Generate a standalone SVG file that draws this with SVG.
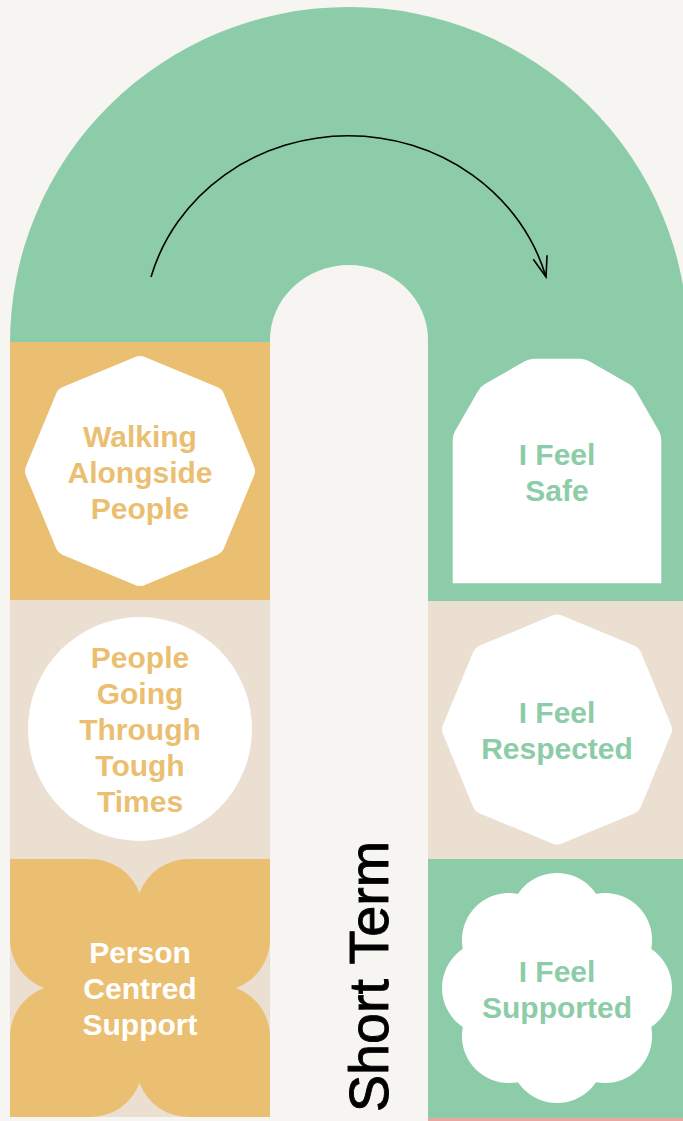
<svg xmlns="http://www.w3.org/2000/svg" width="683" height="1121" viewBox="0 0 683 1121">
  <defs>
    <style>
      .lbl { font-family: "Liberation Sans", Arial, Helvetica, sans-serif; font-weight: bold; font-size: 30px; text-anchor: middle; }
      .or { fill: #ebbf72; }
      .gr { fill: #8dcca8; }
      .wh { fill: #ffffff; }
      .oct { fill: #ffffff; stroke: #ffffff; stroke-width: 22; stroke-linejoin: round; }
      .side { font-family: "Liberation Sans", Arial, Helvetica, sans-serif; font-size: 56px; fill: #000000; stroke: #000000; stroke-width: 0.9; }
    </style>
    <marker id="ah" markerUnits="userSpaceOnUse" markerWidth="30" markerHeight="30" refX="0" refY="0" viewBox="-25 -15 30 30" orient="auto" overflow="visible">
      <path d="M-20,-7 L0,0 L-20,7" fill="none" stroke="#000000" stroke-width="1.6" stroke-linecap="round" stroke-linejoin="miter"/>
    </marker>
  </defs>

  <rect x="0" y="0" width="683" height="1121" fill="#f6f5f1"/>

  <g id="track">
    <path d="M10,343 A339,336 0 0 1 688,343 Z" fill="#8dcca8"/>
    <rect x="428" y="340" width="260" height="261" fill="#8dcca8"/>
    <path d="M270,1121 V340 A79,75 0 0 1 428,340 V1121 Z" fill="#f6f5f1"/>
    <rect x="10" y="342" width="260" height="258" fill="#ebbf72"/>
    <rect x="10" y="600" width="260" height="517" fill="#ebdfd1"/>
    <rect x="428" y="601" width="255" height="258" fill="#ebdfd1"/>
    <rect x="428" y="859" width="255" height="259" fill="#8dcca8"/>
    <rect x="428" y="1118" width="255" height="3" fill="#e8a8a0"/>
  </g>

  <g id="connectors">
    <path d="M151,277 A205,193 0 0 1 546,277" fill="none" stroke="#000000" stroke-width="1.6" marker-end="url(#ah)"/>
  </g>

  <g id="node-walking">
    <polygon class="oct" points="140,367 213.54,397.46 244,471 213.54,544.54 140,575 66.46,544.54 36,471 66.46,397.46"/>
    <text class="lbl or" x="140" y="447">Walking</text>
    <text class="lbl or" x="140" y="483">Alongside</text>
    <text class="lbl or" x="140" y="519">People</text>
  </g>

  <g id="node-tough-times">
    <circle cx="140" cy="729" r="112" fill="#ffffff"/>
    <text class="lbl or" x="140" y="668">People</text>
    <text class="lbl or" x="140" y="704">Going</text>
    <text class="lbl or" x="140" y="740">Through</text>
    <text class="lbl or" x="140" y="776">Tough</text>
    <text class="lbl or" x="140" y="812">Times</text>
  </g>

  <g id="node-person-centred">
    <path d="M10,859 H90.7 A52,52 0 0 1 139.5,893 A52,52 0 0 1 188.3,859 H270 V939.2 A52,52 0 0 1 236,988 A52,52 0 0 1 270,1036.8 V1117 H188.3 A52,52 0 0 1 139.5,1083 A52,52 0 0 1 90.7,1117 H10 V1036.8 A52,52 0 0 1 44,988 A52,52 0 0 1 10,939.2 Z" fill="#ebbf72"/>
    <text class="lbl wh" x="140" y="963">Person</text>
    <text class="lbl wh" x="140" y="999">Centred</text>
    <text class="lbl wh" x="140" y="1035">Support</text>
  </g>

  <g id="node-safe">
    <path d="M452.7,583.3 V440 Q452.7,435 455.2,430.7 L478.1,390.9 Q480.6,386.6 484.9,384.1 L524.7,361.2 Q529,358.7 534,358.7 H580 Q585,358.7 589.3,361.2 L629.1,384.1 Q633.4,386.6 635.9,390.9 L658.8,430.7 Q661.3,435 661.3,440 V583.3 Z" fill="#ffffff"/>
    <text class="lbl gr" x="557" y="465">I Feel</text>
    <text class="lbl gr" x="557" y="501">Safe</text>
  </g>

  <g id="node-respected">
    <polygon class="oct" points="557,625.5 630.54,655.96 661,729.5 630.54,803.04 557,833.5 483.46,803.04 453,729.5 483.46,655.96"/>
    <text class="lbl gr" x="557" y="723">I Feel</text>
    <text class="lbl gr" x="557" y="759">Respected</text>
  </g>

  <g id="node-supported">
    <g fill="#ffffff">
      <circle cx="557" cy="988" r="72"/>
      <circle cx="557" cy="920" r="47"/>
      <circle cx="605.08" cy="939.92" r="47"/>
      <circle cx="625" cy="988" r="47"/>
      <circle cx="605.08" cy="1036.08" r="47"/>
      <circle cx="557" cy="1056" r="47"/>
      <circle cx="508.92" cy="1036.08" r="47"/>
      <circle cx="489" cy="988" r="47"/>
      <circle cx="508.92" cy="939.92" r="47"/>
    </g>
    <text class="lbl gr" x="557" y="982">I Feel</text>
    <text class="lbl gr" x="557" y="1018">Supported</text>
  </g>

  <g id="label-short-term">
    <text class="side" transform="translate(388,1112) rotate(-90)" x="0" y="0" textLength="271" lengthAdjust="spacingAndGlyphs">Short Term</text>
  </g>
</svg>
